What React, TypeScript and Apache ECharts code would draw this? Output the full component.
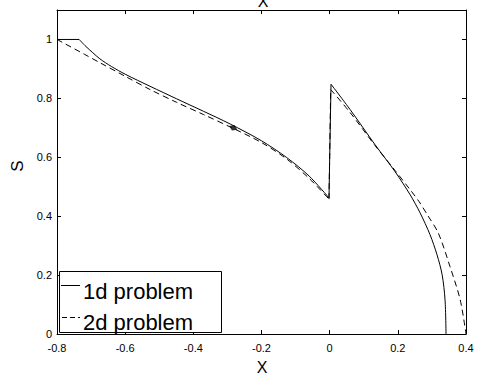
import React, { useEffect, useRef } from "react";
import * as echarts from "echarts";

const solidX = [-0.8, -0.735, -0.715, -0.695, -0.674, -0.64, -0.6, -0.527, -0.45, -0.37, -0.292, -0.2, -0.126, -0.06, -0.002, 0.004, 0.06, 0.133, 0.192, 0.236, 0.265, 0.2945, 0.315, 0.33, 0.3385, 0.3414];
const solidY = [1, 1, 0.976, 0.955, 0.934, 0.908, 0.882, 0.841, 0.799, 0.756, 0.713, 0.656, 0.599, 0.536, 0.462, 0.848, 0.762, 0.643, 0.551, 0.473, 0.412, 0.337, 0.269, 0.201, 0.116, 0];

const dashX = [-0.8, -0.72, -0.674, -0.6, -0.527, -0.45, -0.37, -0.292, -0.2, -0.126, -0.06, -0.002, 0.003, 0.06, 0.133, 0.192, 0.236, 0.262, 0.287, 0.319, 0.353, 0.383, 0.4];
const dashY = [1, 0.95, 0.921, 0.875, 0.83, 0.787, 0.745, 0.703, 0.65, 0.594, 0.528, 0.458, 0.83, 0.752, 0.64, 0.555, 0.49, 0.45, 0.404, 0.342, 0.229, 0.116, 0];

const blobX = [-0.283];
const blobY = [0.7];

const seriesNames = ["1d problem", "2d problem"];
const xTicks = { min: -0.8, max: 0.4, step: 0.2 };
const yTicks = { min: 0, max: 1.1, step: 0.2 };

const FONT = "'Liberation Sans', Arial, sans-serif";

// split a polyline into pieces at sharp corners: flat plateau end and the jump
function pieces(xs: number[], ys: number[]) {
  const pts = xs.map((x, i) => [x, ys[i]]);
  const breaks: number[] = [0];
  for (let i = 1; i < pts.length - 1; i++) {
    const jumpNext = ys[i + 1] - ys[i] > 0.1;
    const jumpPrev = ys[i] - ys[i - 1] > 0.1;
    const plateauEnd = ys[i] === ys[i - 1] && ys[i + 1] < ys[i];
    if (jumpNext || jumpPrev || plateauEnd) breaks.push(i);
  }
  breaks.push(pts.length - 1);
  const out: number[][][] = [];
  for (let k = 0; k < breaks.length - 1; k++) out.push(pts.slice(breaks[k], breaks[k + 1] + 1));
  return out;
}

export default function App() {
  const ref = useRef<HTMLDivElement>(null);
  useEffect(() => {
    if (!ref.current) return;
    const chart = echarts.init(ref.current, undefined, { renderer: "svg" });
    const axisCommon = {
      type: "value" as const,
      axisLine: { show: true, onZero: false, lineStyle: { color: "#000", width: 1 } },
      axisTick: { show: true, inside: true, length: 4, lineStyle: { color: "#000" } },
      splitLine: { show: false },
    };
    const labelStyle = { color: "#000", fontSize: 11, fontFamily: FONT };
    const mk = (name: string, data: number[][], dashed: boolean) => ({
      name,
      type: "line",
      xAxisIndex: 0,
      yAxisIndex: 0,
      showSymbol: false,
      symbol: "none",
      smooth: data.length > 2 ? 0.3 : false,
      lineStyle: { color: "#000", width: 1, type: dashed ? [6, 4] : "solid" },
      data,
    });
    const series: any[] = [];
    pieces(solidX, solidY).forEach((d) => series.push(mk(seriesNames[0], d, false)));
    pieces(dashX, dashY).forEach((d) => series.push(mk(seriesNames[1], d, true)));
    series.push({
      type: "scatter",
      xAxisIndex: 0,
      yAxisIndex: 0,
      symbol: "diamond",
      symbolSize: [9, 6],
      symbolRotate: -25,
      itemStyle: { color: "#000" },
      data: blobX.map((x, i) => [x, blobY[i]]),
    });
    const option = {
      animation: false,
      backgroundColor: "#fff",
      grid: { left: 57, right: 11, top: 10, bottom: 40, containLabel: false },
      xAxis: [
        {
          ...axisCommon,
          position: "bottom",
          min: xTicks.min,
          max: xTicks.max,
          interval: xTicks.step,
          axisLabel: { ...labelStyle, margin: 8 },
        },
        {
          ...axisCommon,
          position: "top",
          min: xTicks.min,
          max: xTicks.max,
          interval: xTicks.step,
          axisLabel: { show: false },
        },
      ],
      yAxis: [
        {
          ...axisCommon,
          position: "left",
          min: yTicks.min,
          max: yTicks.max,
          interval: yTicks.step,
          axisLabel: {
            ...labelStyle,
            margin: 5,
            formatter: (v: number) => (Math.abs(v - 1.1) < 1e-6 ? "" : String(Math.round(v * 10) / 10)),
          },
        },
        {
          ...axisCommon,
          position: "right",
          min: yTicks.min,
          max: yTicks.max,
          interval: yTicks.step,
          axisLabel: { show: false },
        },
      ],
      series,
      graphic: [
        {
          type: "text",
          x: 263,
          y: 1,
          style: { text: "X", fontSize: 16, fontFamily: FONT, fill: "#000", align: "center", verticalAlign: "middle" },
        },
        {
          type: "text",
          x: 262,
          y: 367,
          style: { text: "X", fontSize: 16, fontFamily: FONT, fill: "#000", align: "center", verticalAlign: "middle" },
        },
        {
          type: "text",
          x: 17,
          y: 166,
          rotation: Math.PI / 2,
          style: { text: "S", fontSize: 17, fontFamily: FONT, fill: "#000", align: "center", verticalAlign: "middle" },
        },
        {
          type: "rect",
          shape: { x: 59.5, y: 271.5, width: 162, height: 61 },
          style: { fill: "#fff", stroke: "#000", lineWidth: 1 },
          z: 100,
        },
        {
          type: "line",
          shape: { x1: 61, y1: 285.5, x2: 80, y2: 285.5 },
          style: { stroke: "#000", lineWidth: 1 },
          z: 101,
        },
        {
          type: "text",
          x: 83,
          y: 291,
          style: { text: seriesNames[0], fontSize: 22, fontFamily: FONT, fill: "#000", verticalAlign: "middle" },
          z: 101,
        },
        {
          type: "line",
          shape: { x1: 62, y1: 317.5, x2: 80, y2: 317.5 },
          style: { stroke: "#000", lineWidth: 1, lineDash: [5, 3] },
          z: 101,
        },
        {
          type: "text",
          x: 83,
          y: 322,
          style: { text: seriesNames[1], fontSize: 22, fontFamily: FONT, fill: "#000", verticalAlign: "middle" },
          z: 101,
        },
      ],
    };
    chart.setOption(option as any);
    return () => chart.dispose();
  }, []);
  return (
    <div
      ref={ref}
      style={{ position: "fixed", left: 0, top: 0, width: 477, height: 374, background: "#fff" }}
    />
  );
}
